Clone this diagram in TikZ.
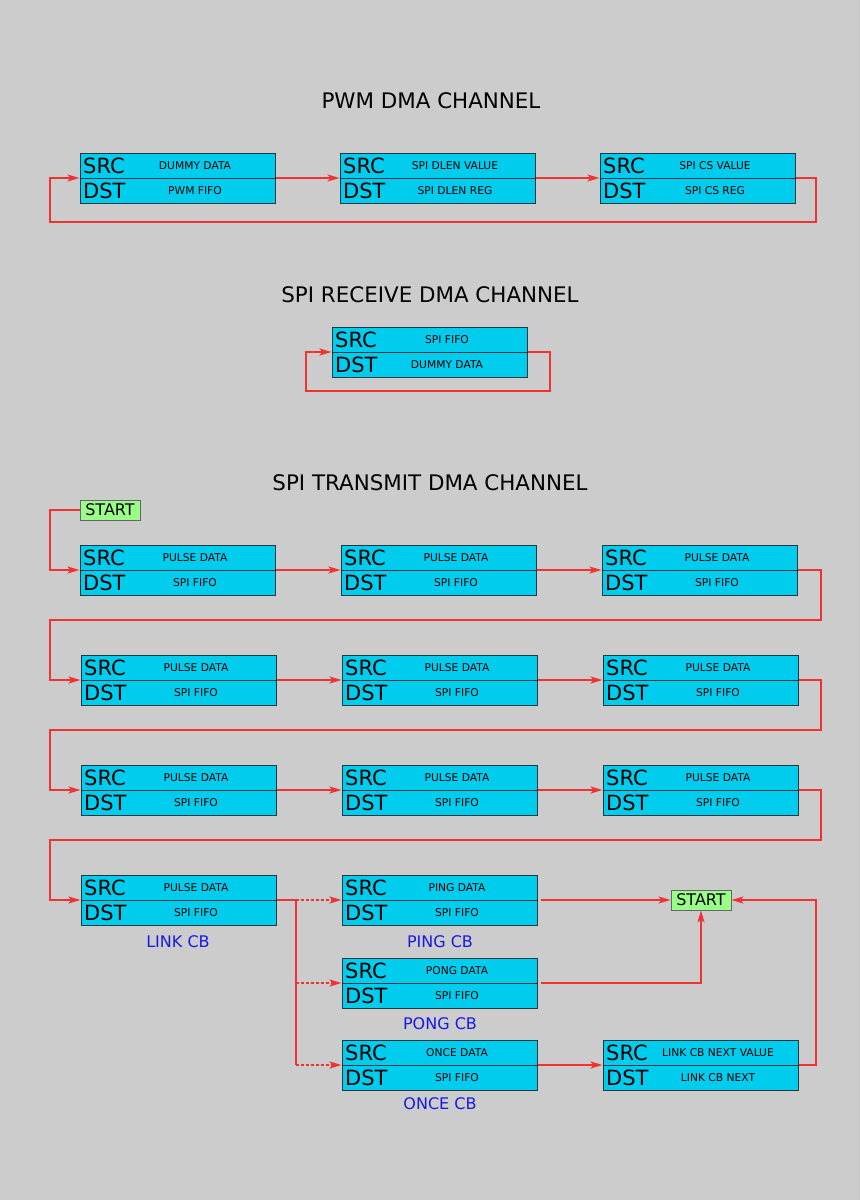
\documentclass[tikz,border=0pt]{standalone}
\usepackage{fontspec}
\setmainfont{DejaVu Sans}
\usetikzlibrary{arrows.meta}

\definecolor{bgcol}{RGB}{204,204,204}
\definecolor{cbfill}{RGB}{0,204,238}
\definecolor{cbline}{RGB}{35,55,65}
\definecolor{linkred}{RGB}{240,50,50}
\definecolor{cbname}{RGB}{25,25,230}
\definecolor{startfill}{RGB}{153,255,136}

\tikzset{
    cbox/.style={rectangle, draw=cbline, fill=cbfill, line width=1pt, minimum width=195pt, minimum height=50pt, inner sep=0pt},
    divline/.style={draw=cbline, line width=1pt},
    tagtxt/.style={anchor=west, inner sep=0pt, font=\fontsize{21}{23}\selectfont},
    valtxt/.style={inner sep=0pt, font=\fontsize{10.7}{12}\selectfont},
    title/.style={font=\fontsize{21.4}{25}\selectfont},
    cbtag/.style={text=cbname, font=\fontsize{16}{18}\selectfont},
    startbox/.style={rectangle, draw=black!60, fill=startfill, line width=0.8pt, minimum width=60pt, minimum height=20pt, inner sep=0pt, font=\fontsize{16}{18}\selectfont},
    wire/.style={draw=linkred, line width=2pt},
    link/.style={wire, -{Stealth[length=12pt, width=7pt, inset=3pt]}},
    maybe/.style={link, dash pattern=on 3pt off 2pt}
}

\newcommand{\CtrlBlock}[5]{%
    \node[cbox] (#1) at (#2+97.5,#3+25) {};
    \draw[divline] (#1.west) -- (#1.east);
    \node[tagtxt] (#1-s) at (#2+3,#3+12.5) {SRC};
    \node[valtxt] (#1-sv) at (#2+115,#3+12.5) {#4};
    \node[tagtxt] (#1-d) at (#2+3,#3+37.5) {DST};
    \node[valtxt] (#1-dv) at (#2+115,#3+37.5) {#5};
}

\begin{document}
\begin{tikzpicture}[x=1pt, y=-1pt]
    \fill[bgcol] (0,0) rectangle (860,1200);

    \node[title] (pwmtitle) at (431,101) {PWM DMA CHANNEL};
    \CtrlBlock{pwm1}{80}{153}{DUMMY DATA}{PWM FIFO}
    \CtrlBlock{pwm2}{340}{153}{SPI DLEN VALUE}{SPI DLEN REG}
    \CtrlBlock{pwm3}{600}{153}{SPI CS VALUE}{SPI CS REG}
    \draw[link] (pwm1.east) -- (pwm2.west);
    \draw[link] (pwm2.east) -- (pwm3.west);
    \draw[link] (pwm3.east) -- ++(20,0) -- ++(0,44) -| ([xshift=-30pt]pwm1.west) -- (pwm1.west);

    \node[title] (rxtitle) at (430,295) {SPI RECEIVE DMA CHANNEL};
    \CtrlBlock{rx}{332}{327}{SPI FIFO}{DUMMY DATA}
    \draw[link] (rx.east) -- ++(22,0) -- ++(0,39) -| ([xshift=-26pt]rx.west) -- (rx.west);

    \node[title] (txtitle) at (430,483) {SPI TRANSMIT DMA CHANNEL};
    \node[startbox] (start1) at (110,510) {START};
    \CtrlBlock{t11}{80}{545}{PULSE DATA}{SPI FIFO}
    \CtrlBlock{t12}{341}{545}{PULSE DATA}{SPI FIFO}
    \CtrlBlock{t13}{602}{545}{PULSE DATA}{SPI FIFO}
    \CtrlBlock{t21}{81}{655}{PULSE DATA}{SPI FIFO}
    \CtrlBlock{t22}{342}{655}{PULSE DATA}{SPI FIFO}
    \CtrlBlock{t23}{603}{655}{PULSE DATA}{SPI FIFO}
    \CtrlBlock{t31}{81}{765}{PULSE DATA}{SPI FIFO}
    \CtrlBlock{t32}{342}{765}{PULSE DATA}{SPI FIFO}
    \CtrlBlock{t33}{603}{765}{PULSE DATA}{SPI FIFO}
    \CtrlBlock{linkcb}{81}{875}{PULSE DATA}{SPI FIFO}
    \CtrlBlock{pingcb}{342}{875}{PING DATA}{SPI FIFO}
    \CtrlBlock{pongcb}{342}{958}{PONG DATA}{SPI FIFO}
    \CtrlBlock{oncecb}{342}{1040}{ONCE DATA}{SPI FIFO}
    \CtrlBlock{nextcb}{603}{1040}{LINK CB NEXT VALUE}{LINK CB NEXT}
    \node[cbtag] (linktag) at (178,942) {LINK CB};
    \node[cbtag] (pingtag) at (440,942) {PING CB};
    \node[cbtag] (pongtag) at (440,1024) {PONG CB};
    \node[cbtag] (oncetag) at (440,1104) {ONCE CB};
    \node[startbox] (start2) at (701,900) {START};

    \draw[link] (start1.west) -| ([xshift=-30pt]t11.west) -- (t11.west);
    \draw[link] (t11.east) -- (t12.west);
    \draw[link] (t12.east) -- (t13.west);
    \draw[link] (t13.east) -- ++(23,0) -- ++(0,50) -| ([xshift=-31pt]t21.west) -- (t21.west);
    \draw[link] (t21.east) -- (t22.west);
    \draw[link] (t22.east) -- (t23.west);
    \draw[link] (t23.east) -- ++(22,0) -- ++(0,50) -| ([xshift=-31pt]t31.west) -- (t31.west);
    \draw[link] (t31.east) -- (t32.west);
    \draw[link] (t32.east) -- (t33.west);
    \draw[link] (t33.east) -- ++(22,0) -- ++(0,50) -| ([xshift=-31pt]linkcb.west) -- (linkcb.west);

    \draw[wire] (linkcb.east) -- ++(19,0) coordinate (fork);
    \draw[wire] (fork) -- (fork |- oncecb.west);
    \draw[maybe] (fork) -- (pingcb.west);
    \draw[maybe] (fork |- pongcb.west) -- (pongcb.west);
    \draw[maybe] (fork |- oncecb.west) -- (oncecb.west);

    \draw[link] ([xshift=3pt]pingcb.east) -- (start2.west);
    \draw[link] ([xshift=3pt]pongcb.east) -| (start2.south);
    \draw[link] (oncecb.east) -- (nextcb.west);
    \draw[link] (nextcb.east) -- ++(17,0) |- (start2.east);
\end{tikzpicture}
\end{document}
